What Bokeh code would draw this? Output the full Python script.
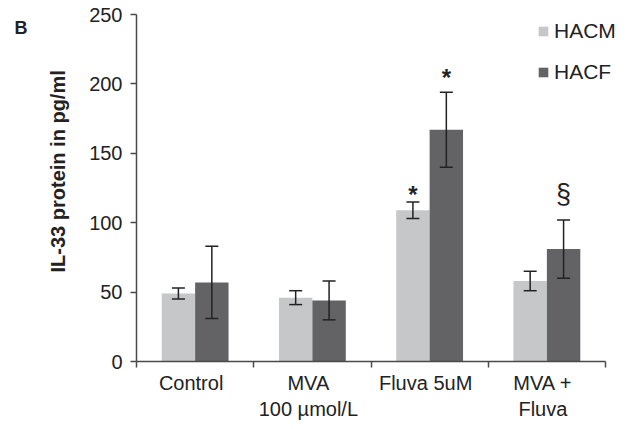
import math
from bokeh.plotting import figure
from bokeh.models import (Range1d, FixedTicker, ColumnDataSource, Whisker, TeeHead,
                          Legend, LegendItem, Label)
from bokeh.core.properties import value
from bokeh.embed import file_html
from bokeh.resources import INLINE

# ---- data ----
categories = ["Control", "MVA\n100 µmol/L", "Fluva 5uM", "MVA +\nFluva"]
hacm_mean = [49, 46, 109, 58]
hacm_err = [4, 5, 6, 7]
hacf_mean = [57, 44, 167, 81]
hacf_err = [26, 14, 27, 21]
series_names = ["HACM", "HACF"]
y_ticks = [0, 50, 100, 150, 200, 250]
y_title = "IL-33 protein in pg/ml"
panel_letter = "B"
# significance marks: series, category index, symbol, baseline height in pg/ml
mark_series = ["HACM", "HACF", "HACF"]
mark_cat = [2, 2, 3]
mark_text = ["*", "*", "§"]
mark_y = [120.5, 204.5, 120.5]

FONT = "Liberation Sans"
C_HACM = "#c6c7c9"
C_HACF = "#636365"
AX = "#4a4a4a"
TXT = "#222222"

W, H = 637, 429
LEFT_PX, RIGHT_PX, TOP_PX, BOTTOM_PX = 136, 605, 14, 361   # axis box in page pixels
ncat = len(categories)
ppx = (RIGHT_PX - LEFT_PX) / ncat
ppy = (BOTTOM_PX - TOP_PX) / y_ticks[-1]

p = figure(width=W, height=H, output_backend="svg", toolbar_location=None,
           x_range=Range1d(-LEFT_PX / ppx, (W - LEFT_PX) / ppx),
           y_range=Range1d(-(H - BOTTOM_PX) / ppy, y_ticks[-1] + TOP_PX / ppy),
           min_border_left=0, min_border_right=0, min_border_top=0, min_border_bottom=0)
p.outline_line_color = None
p.xgrid.visible = False
p.ygrid.visible = False

centers = [i + 0.5 for i in range(ncat)]
off = 0.1425
bw = 0.285
x_m = [c - off for c in centers]
x_f = [c + off for c in centers]

src_m = ColumnDataSource(dict(x=x_m, top=hacm_mean,
                              lo=[m - e for m, e in zip(hacm_mean, hacm_err)],
                              hi=[m + e for m, e in zip(hacm_mean, hacm_err)]))
src_f = ColumnDataSource(dict(x=x_f, top=hacf_mean,
                              lo=[m - e for m, e in zip(hacf_mean, hacf_err)],
                              hi=[m + e for m, e in zip(hacf_mean, hacf_err)]))

r_m = p.vbar(x="x", top="top", bottom=0, width=bw, source=src_m, fill_color=C_HACM, line_color=None)
r_f = p.vbar(x="x", top="top", bottom=0, width=bw, source=src_f, fill_color=C_HACF, line_color=None)

for src in (src_m, src_f):
    w = Whisker(base="x", lower="lo", upper="hi", source=src, level="overlay",
                line_color=TXT, line_width=1.5,
                upper_head=TeeHead(size=13, line_color=TXT, line_width=1.5),
                lower_head=TeeHead(size=13, line_color=TXT, line_width=1.5))
    p.add_layout(w)

# significance marks
mx, my, mt, ms, mw = [], [], [], [], []
for s, ci, t, yv in zip(mark_series, mark_cat, mark_text, mark_y):
    mx.append(x_m[ci] if s == "HACM" else x_f[ci])
    my.append(yv)
    mt.append(t)
    ms.append("24px" if t == "*" else "27px")
    mw.append("bold" if t == "*" else "normal")
p.text(x=mx, y=my, text=mt, text_font_size=ms, text_font_style=mw,
       text_align="center", text_baseline="alphabetic", text_color=TXT,
       text_font=value(FONT))

# x axis drawn at y = 0 (labels sit slightly left of the category centre, as in the source)
label_pos = [c - 4 / ppx for c in centers]
xa = p.xaxis[0]
xa.fixed_location = 0
xa.bounds = (0, ncat)
xa.ticker = FixedTicker(ticks=label_pos, minor_ticks=list(range(ncat + 1)))
xa.major_label_overrides = {c: lab for c, lab in zip(label_pos, categories)}
xa.major_tick_out = 0
xa.major_tick_in = 0
xa.minor_tick_out = 6
xa.minor_tick_in = 0
xa.minor_tick_line_color = AX
xa.minor_tick_line_width = 1.5
xa.axis_line_color = AX
xa.axis_line_width = 1.5
xa.major_label_text_font = FONT
xa.major_label_text_font_size = "20px"
xa.major_label_text_color = TXT
xa.major_label_standoff = 4

# y axis drawn at x = 0
ya = p.yaxis[0]
ya.fixed_location = 0
ya.bounds = (0, y_ticks[-1])
ya.ticker = FixedTicker(ticks=y_ticks, minor_ticks=[])
ya.major_tick_out = 6
ya.major_tick_in = 0
ya.major_tick_line_color = AX
ya.major_tick_line_width = 1.5
ya.axis_line_color = AX
ya.axis_line_width = 1.5
ya.major_label_text_font = FONT
ya.major_label_text_font_size = "20px"
ya.major_label_text_color = TXT
ya.major_label_standoff = 8

# y title and panel letter
p.add_layout(Label(x=(57 - LEFT_PX) / ppx, y=137, text=y_title, angle=math.pi / 2,
                   text_align="center", text_baseline="middle", text_font=FONT,
                   text_font_size="20px", text_font_style="bold", text_color=TXT))
p.add_layout(Label(x=(14 - LEFT_PX) / ppx, y=(BOTTOM_PX - 27) / ppy, text=panel_letter,
                   text_align="left", text_baseline="alphabetic",
                   text_font=FONT, text_font_size="18px", text_font_style="bold",
                   text_color=TXT))

legend = Legend(items=[LegendItem(label=series_names[0], renderers=[r_m]),
                       LegendItem(label=series_names[1], renderers=[r_f])],
                location=(537, H - 84), orientation="vertical",
                glyph_width=12, glyph_height=12, label_standoff=5, spacing=17,
                padding=0, margin=0, border_line_color=None, background_fill_alpha=0,
                label_text_font=FONT, label_text_font_size="21px", label_text_color=TXT)
p.add_layout(legend, "center")

open("out.html", "w").write(file_html(p, INLINE))
